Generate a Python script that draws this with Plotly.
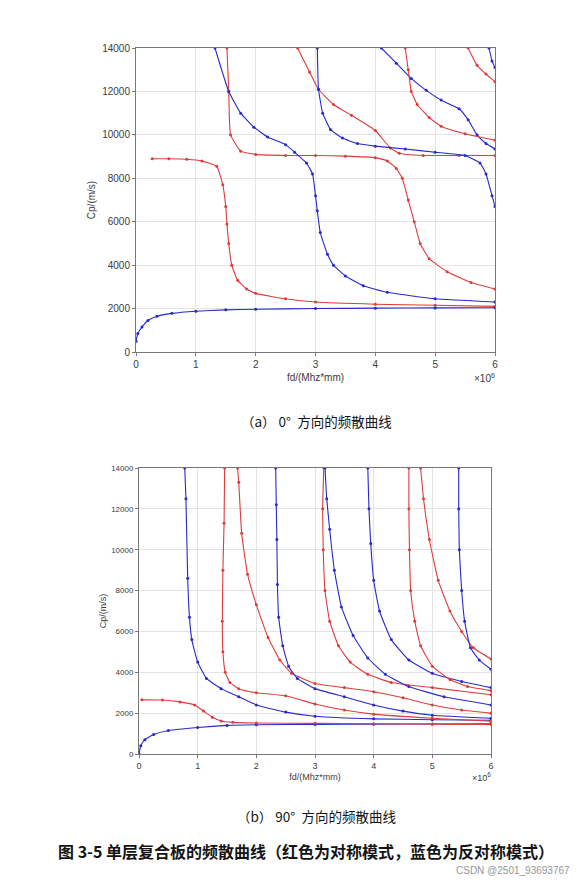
import plotly.graph_objects as go

OFF = 8  # default page body margin
W, H = 579 - OFF, 881 - OFF
RED = "rgb(222,60,60)"
BLUE = "rgb(40,40,205)"

# ---- (a) 0 degree: (fd in 1e6, Cp) ----
a_red1_x = [0.27,0.55,0.85,1.1,1.35,1.45,1.5,1.52,1.55,1.6,1.7,1.85,2.0,2.5,3,4,5,6]
a_red1_y = [8900,8900,8880,8800,8550,7700,6700,5900,5000,4000,3300,2900,2700,2450,2300,2200,2150,2100]
a_blue1_x = [0,0.03,0.1,0.2,0.35,0.6,1,1.5,2,3,4,5,6]
a_blue1_y = [500,850,1150,1450,1650,1780,1880,1940,1970,2000,2020,2030,2040]
a_red2_x = [1.52,1.55,1.58,1.75,2,2.5,3,3.5,4,4.2,4.35,4.45,4.55,4.65,4.75,4.9,5.2,5.6,6]
a_red2_y = [14000,12000,10000,9250,9100,9050,9050,9020,8950,8800,8450,8000,7000,6000,5000,4300,3700,3200,2900]
a_blue2_x = [1.32,1.55,1.75,1.97,2.2,2.5,2.65,2.85,2.95,3.0,3.03,3.08,3.2,3.3,3.5,3.8,4.2,5,6]
a_blue2_y = [14000,12000,11000,10350,9900,9550,9200,8700,8200,7200,6500,5500,4500,4000,3500,3050,2750,2450,2300]
a_red3_x = [2.7,2.9,3.05,3.3,3.6,4.0,4.25,4.4,4.8,5.4,6]
a_red3_y = [14000,12900,12100,11400,10900,10200,9400,9150,9050,9050,9050]
a_blue3_x = [3.03,3.05,3.12,3.25,3.45,3.7,4.0,4.5,5.0,5.5,5.75,5.85,5.95,6]
a_blue3_y = [14000,12100,11000,10250,9850,9600,9480,9350,9200,9050,8700,8200,7200,6700]
a_blue4_x = [4.1,4.35,4.6,4.85,5.1,5.4,5.55,5.7,5.85,6]
a_blue4_y = [14000,13300,12600,12050,11600,11200,10700,10000,9600,9350]
a_red4_x = [4.5,4.55,4.6,4.7,4.9,5.1,5.5,6]
a_red4_y = [14000,13000,12000,11400,10800,10400,10050,9750]
a_red5_x = [5.55,5.7,5.85,6]
a_red5_y = [14000,13200,12800,12450]
a_blue5_x = [5.9,5.95,6]
a_blue5_y = [14000,13400,13100]

# ---- (b) 90 degree ----
b_blue1_x = [0,0.03,0.1,0.25,0.5,1,1.5,2,3,4,5,6]
b_blue1_y = [0,400,700,950,1150,1300,1400,1430,1450,1460,1470,1480]
b_red1_x = [0.05,0.4,0.7,0.95,1.1,1.25,1.4,1.6,2,3,4,5,6]
b_red1_y = [2650,2640,2550,2400,2100,1800,1620,1550,1520,1500,1480,1460,1450]
b_blue2_x = [0.78,0.8,0.83,0.86,0.9,1.0,1.15,1.4,1.7,2,2.5,3,4,5,6]
b_blue2_y = [14000,12500,8600,6700,5600,4500,3700,3200,2800,2400,2050,1850,1720,1680,1650]
b_red2_x = [1.46,1.45,1.43,1.42,1.43,1.47,1.55,1.7,2,2.5,3,3.5,4,5,6]
b_red2_y = [14000,11300,9000,6500,5000,4000,3500,3200,3000,2850,2450,2150,1950,1750,1600]
b_red3_x = [1.68,1.7,1.75,1.85,2,2.2,2.4,2.6,3,3.5,4,4.5,5,5.5,6]
b_red3_y = [14000,13300,10800,8800,7300,5700,4600,3950,3450,3250,3050,2750,2400,2150,2000]
b_blue3_x = [2.33,2.34,2.35,2.36,2.38,2.45,2.55,2.7,3,3.5,4,4.5,5,6]
b_blue3_y = [14000,12200,10500,8300,6700,5300,4300,3700,3200,2800,2400,2100,1900,1750]
b_red4_x = [3.15,3.13,3.14,3.17,3.25,3.4,3.6,3.9,4.3,5,6]
b_red4_y = [14000,12000,10000,8000,6500,5300,4500,3900,3500,3250,2900]
b_blue4_x = [3.17,3.2,3.25,3.33,3.45,3.65,3.9,4.2,4.6,5.2,6]
b_blue4_y = [14000,12500,11000,9000,7200,5800,4700,3900,3300,2800,2400]
b_blue5_x = [3.9,3.92,3.95,4.0,4.1,4.3,4.6,5,5.5,6]
b_blue5_y = [14000,12000,10300,8500,7000,5600,4600,3950,3550,3250]
b_red5_x = [4.6,4.6,4.61,4.63,4.7,4.8,5.0,5.3,5.6,6]
b_red5_y = [14000,12000,10000,8000,6500,5300,4300,3650,3300,3100]
b_red6_x = [4.8,4.85,4.95,5.1,5.3,5.5,5.7,6]
b_red6_y = [14000,12500,10500,8500,7000,6000,5200,4650]
b_blue6_x = [5.45,5.45,5.46,5.5,5.55,5.65,5.8,6]
b_blue6_y = [14000,12000,10000,8000,6500,5200,4600,4150]

x_ticks = [0, 1, 2, 3, 4, 5, 6]
y_ticks = [0, 2000, 4000, 6000, 8000, 10000, 12000, 14000]

fig = go.Figure()

def add(xs, ys, color, ax):
    fig.add_trace(go.Scatter(x=xs, y=ys, mode="lines+markers",
                             line=dict(color=color, width=1.1, shape="spline", smoothing=0.4),
                             marker=dict(color=color, size=3),
                             xaxis="x" + ax, yaxis="y" + ax, showlegend=False,
                             cliponaxis=True))

for xs, ys, c in [(a_red1_x, a_red1_y, RED), (a_blue1_x, a_blue1_y, BLUE),
                  (a_red2_x, a_red2_y, RED), (a_blue2_x, a_blue2_y, BLUE),
                  (a_red3_x, a_red3_y, RED), (a_blue3_x, a_blue3_y, BLUE),
                  (a_blue4_x, a_blue4_y, BLUE), (a_red4_x, a_red4_y, RED),
                  (a_red5_x, a_red5_y, RED), (a_blue5_x, a_blue5_y, BLUE)]:
    add(xs, ys, c, "")
for xs, ys, c in [(b_blue1_x, b_blue1_y, BLUE), (b_red1_x, b_red1_y, RED),
                  (b_blue2_x, b_blue2_y, BLUE), (b_red2_x, b_red2_y, RED),
                  (b_red3_x, b_red3_y, RED), (b_blue3_x, b_blue3_y, BLUE),
                  (b_red4_x, b_red4_y, RED), (b_blue4_x, b_blue4_y, BLUE),
                  (b_blue5_x, b_blue5_y, BLUE), (b_red5_x, b_red5_y, RED),
                  (b_red6_x, b_red6_y, RED), (b_blue6_x, b_blue6_y, BLUE)]:
    add(xs, ys, c, "2")

def px(x0, x1):
    return [(x0 - OFF) / W, (x1 - OFF) / W]
def py(top, bot):
    return [1 - (bot - OFF) / H, 1 - (top - OFF) / H]

axcommon = dict(showgrid=True, gridcolor="rgb(228,228,228)", gridwidth=1,
                showline=True, linecolor="rgb(120,120,120)", linewidth=1, mirror=True,
                ticks="outside", ticklen=3, tickcolor="rgb(120,120,120)",
                zeroline=False, fixedrange=True, automargin=False, tickformat="d")

fig.update_layout(
    width=W, height=H, margin=dict(l=0, r=0, t=0, b=0, autoexpand=False),
    paper_bgcolor="white", plot_bgcolor="white",
    font=dict(family="Liberation Sans, Arial", color="rgb(60,60,60)"),
    xaxis=dict(domain=px(136, 495), anchor="y", range=[0, 6], tickvals=x_ticks,
               tickfont=dict(size=10), title=dict(text="fd/(Mhz*mm)", font=dict(size=10), standoff=4), **axcommon),
    yaxis=dict(domain=py(48, 352), anchor="x", range=[0, 14000], tickvals=y_ticks,
               tickfont=dict(size=10), title=dict(text="Cp/(m/s)", font=dict(size=10), standoff=4), **axcommon),
    xaxis2=dict(domain=px(139, 491), anchor="y2", range=[0, 6], tickvals=x_ticks,
                tickfont=dict(size=9), title=dict(text="fd/(Mhz*mm)", font=dict(size=9), standoff=3), **axcommon),
    yaxis2=dict(domain=py(468, 754), anchor="x2", range=[0, 14000], tickvals=y_ticks,
                tickfont=dict(size=8), title=dict(text="Cp/(m/s)", font=dict(size=9), standoff=3), **axcommon),
)

def ann(text, x, y, size, color="rgb(60,60,60)", family=None, xanchor="center"):
    fig.add_annotation(text=text, x=(x - OFF) / W, y=1 - (y - OFF) / H, xref="paper", yref="paper",
                       showarrow=False, xanchor=xanchor, yanchor="middle",
                       font=dict(size=size, color=color,
                                 family=family or "Liberation Sans, Arial"))

ann("×10<sup>6</sup>", 484, 378, 10)
ann("×10<sup>6</sup>", 481, 777, 9)
CJK = "Noto Sans CJK SC"
ann("（a） 0°  方向的频散曲线", 316, 421, 13.5, "rgb(20,20,20)", CJK)
ann("（b） 90°  方向的频散曲线", 316, 816, 13.5, "rgb(20,20,20)", CJK)
ann("<b>图 3-5 单层复合板的频散曲线（红色为对称模式，蓝色为反对称模式）</b>", 306, 851, 16, "rgb(20,20,20)", CJK)
ann("CSDN @2501_93693767", 572, 870, 10, "rgb(150,150,150)", None, "right")

fig.write_html("out.html")
